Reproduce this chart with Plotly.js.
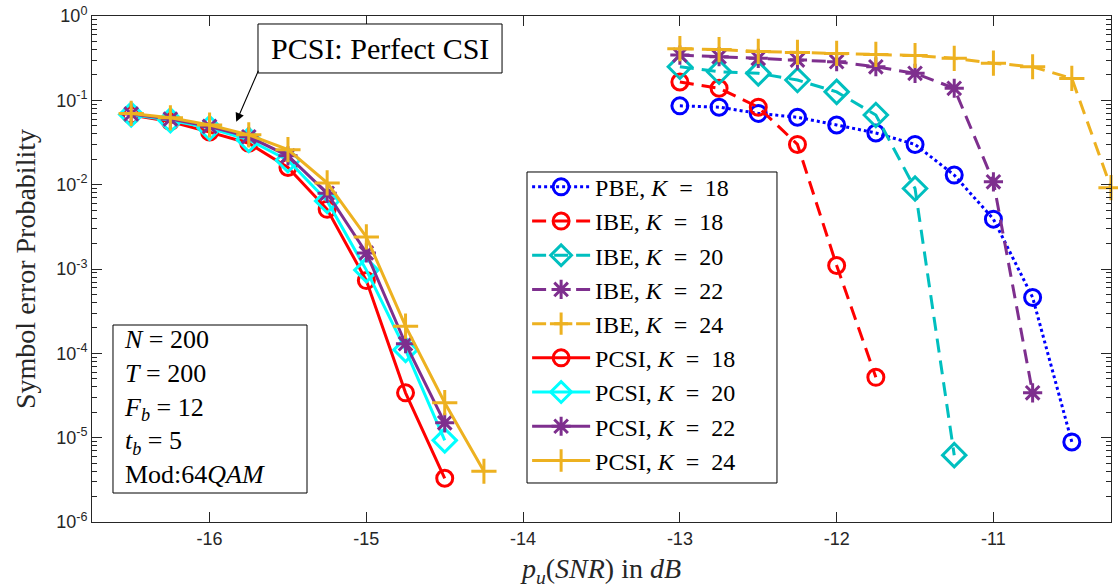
<!DOCTYPE html>
<html>
<head>
<meta charset="utf-8">
<script src="https://cdn.plot.ly/plotly-3.0.1.min.js"></script>
<style>html,body{margin:0;padding:0;background:#fff;}#chart{width:1118px;height:588px;}</style>
</head>
<body>
<div id="chart"></div>
<script>
// ---- data ----
const xPCSI = [-16.5, -16.25, -16.0, -15.75, -15.5, -15.25, -15.0, -14.75, -14.5, -14.25];
const pcsiK18 = [0.067, 0.056, 0.042, 0.031, 0.016, 0.0051, 0.00073, 3.4e-5, 3.3e-6];
const pcsiK20 = [0.068, 0.058, 0.047, 0.034, 0.0195, 0.0064, 0.00097, 1.1e-4, 9.3e-6];
const pcsiK22 = [0.069, 0.060, 0.049, 0.037, 0.022, 0.0079, 0.00155, 1.3e-4, 1.5e-5];
const pcsiK24 = [0.070, 0.062, 0.051, 0.039, 0.026, 0.0105, 0.0024, 2.1e-4, 2.6e-5, 4.0e-6];

const xIBE = [-13.0, -12.75, -12.5, -12.25, -12.0, -11.75, -11.5, -11.25, -11.0, -10.75, -10.5, -10.25];
const pbeK18 = [0.086, 0.083, 0.070, 0.063, 0.051, 0.041, 0.030, 0.013, 0.0039, 4.6e-4, 8.9e-6];
const ibeK18 = [0.165, 0.139, 0.083, 0.030, 0.0011, 5.2e-5];
const ibeK20 = [0.25, 0.218, 0.209, 0.174, 0.126, 0.067, 0.009, 6.2e-6];
const ibeK22 = [0.344, 0.329, 0.315, 0.300, 0.287, 0.250, 0.209, 0.139, 0.0108, 3.4e-5];
const ibeK24 = [0.41, 0.40, 0.38, 0.37, 0.36, 0.35, 0.34, 0.315, 0.276, 0.25, 0.182, 0.0092];

const xTickVals = [-16, -15, -14, -13, -12, -11];
const xTickText = ['-16', '-15', '-14', '-13', '-12', '-11'];
const yTickVals = [1e-6, 1e-5, 1e-4, 1e-3, 1e-2, 1e-1, 1];
const yTickText = ['10<sup>-6</sup>', '10<sup>-5</sup>', '10<sup>-4</sup>', '10<sup>-3</sup>', '10<sup>-2</sup>', '10<sup>-1</sup>', '10<sup>0</sup>'];

const EQ = '&nbsp;&nbsp;=&nbsp;&nbsp;';
const seriesNames = [
  'PBE, <i>K</i>' + EQ + '18', 'IBE, <i>K</i>' + EQ + '18', 'IBE, <i>K</i>' + EQ + '20',
  'IBE, <i>K</i>' + EQ + '22', 'IBE, <i>K</i>' + EQ + '24',
  'PCSI, <i>K</i>' + EQ + '18', 'PCSI, <i>K</i>' + EQ + '20', 'PCSI, <i>K</i>' + EQ + '22', 'PCSI, <i>K</i>' + EQ + '24'
];
const annoText = 'PCSI: Perfect CSI';
const paramText = '<i>N</i> = 200<br><i>T</i> = 200<br><i>F<sub>b</sub></i> = 12<br><i>t<sub>b</sub></i> = 5<br>Mod:64<i>QAM</i>';

// ---- styles ----
const C = {blue:'#0000FF', red:'#FF0000', teal:'#00BFBF', cyan:'#00FFFF', purple:'#7E2F8E', orange:'#EDB120'};
const DASH = '14px,8px';

function tr(x, y, name, color, dash, symbol, msize) {
  return {
    x: x.slice(0, y.length), y: y, name: name, type: 'scatter', mode: 'lines+markers',
    cliponaxis: false,
    line: {color: color, width: 3, dash: dash},
    marker: {symbol: symbol, size: msize, color: color, line: {color: color, width: 3}}
  };
}

const traces = [
  tr(xIBE, pbeK18, seriesNames[0], C.blue, 'dot', 'circle-open', 16),
  tr(xIBE, ibeK18, seriesNames[1], C.red, DASH, 'circle-open', 16),
  tr(xIBE, ibeK20, seriesNames[2], C.teal, DASH, 'diamond-open', 18),
  tr(xIBE, ibeK22, seriesNames[3], C.purple, DASH, 'asterisk-open', 16),
  tr(xIBE, ibeK24, seriesNames[4], C.orange, DASH, 'cross-thin-open', 18),
  tr(xPCSI, pcsiK18, seriesNames[5], C.red, 'solid', 'circle-open', 16),
  tr(xPCSI, pcsiK20, seriesNames[6], C.cyan, 'solid', 'diamond-open', 18),
  tr(xPCSI, pcsiK22, seriesNames[7], C.purple, 'solid', 'asterisk-open', 16),
  tr(xPCSI, pcsiK24, seriesNames[8], C.orange, 'solid', 'cross-thin-open', 18)
];

const minorVals = [];
for (let e = -6; e < 0; e++) for (let d = 2; d <= 9; d++) minorVals.push(d * Math.pow(10, e));

const serif = 'Liberation Serif, DejaVu Serif, serif';
const sans = 'Liberation Sans, Arial, sans-serif';
const axisCol = '#262626';

function box(x0, y0, x1, y1) {
  return {type: 'rect', xref: 'paper', yref: 'paper', x0: x0, y0: y0, x1: x1, y1: y1,
          line: {color: '#000', width: 1}, fillcolor: '#fff', layer: 'above'};
}

const layout = {
  width: 1118, height: 588,
  margin: {l: 92, r: 7, t: 16, b: 66},
  paper_bgcolor: '#fff', plot_bgcolor: '#fff',
  showlegend: true,
  legend: {
    x: 0.427, y: 0.706, xanchor: 'left', yanchor: 'top',
    borderwidth: 0, bgcolor: 'rgba(0,0,0,0)',
    font: {family: serif, size: 24, color: '#000'},
    itemwidth: 58, tracegroupgap: 0
  },
  xaxis: {
    range: [-16.75, -10.25], tickmode: 'array', tickvals: xTickVals, ticktext: xTickText,
    ticks: 'inside', ticklen: 10, tickcolor: axisCol, tickwidth: 1,
    showline: true, linecolor: axisCol, linewidth: 1, mirror: 'allticks',
    showgrid: false, zeroline: false,
    tickfont: {family: sans, size: 18, color: axisCol},
    title: {text: '<i>p<sub>u</sub></i>(<i>SNR</i>) in <i>dB</i>', font: {family: serif, size: 28, color: '#262626'}, standoff: 10}
  },
  yaxis: {
    type: 'log', range: [-6, 0], tickmode: 'array', tickvals: yTickVals, ticktext: yTickText,
    ticks: 'inside', ticklen: 10, tickcolor: axisCol, tickwidth: 1,
    showline: true, linecolor: axisCol, linewidth: 1, mirror: 'allticks',
    showgrid: false, zeroline: false,
    minor: {tickmode: 'array', tickvals: minorVals, ticks: 'inside', ticklen: 5, tickcolor: axisCol, showgrid: false},
    tickfont: {family: sans, size: 18, color: axisCol},
    title: {text: 'Symbol error Probability', font: {family: serif, size: 28, color: '#262626'}, standoff: 12}
  },
  shapes: [
    box(0.4269, 0.0771, 0.6722, 0.6917),
    box(0.0206, 0.0573, 0.2110, 0.3893),
    box(0.1629, 0.8874, 0.4024, 0.9842)
  ],
  annotations: [
    {
      xref: 'paper', yref: 'paper', x: 0.2826, y: 0.9358, xanchor: 'center', yanchor: 'middle',
      text: annoText, showarrow: false,
      font: {family: serif, size: 30, color: '#000'}
    },
    {
      xref: 'x', yref: 'y', x: -15.83, y: Math.log10(0.0557),
      text: ' ', showarrow: true, ax: 23, ay: -53,
      arrowhead: 2, arrowsize: 1.6, arrowwidth: 1.1, arrowcolor: '#000', standoff: 0, startstandoff: 0,
      font: {size: 1}
    },
    {
      xref: 'paper', yref: 'paper', x: 0.0294, y: 0.228, xanchor: 'left', yanchor: 'middle', align: 'left',
      text: paramText, showarrow: false,
      font: {family: serif, size: 26, color: '#000'}
    }
  ]
};

Plotly.newPlot('chart', traces, layout, {displayModeBar: false, staticPlot: true});
</script>
</body>
</html>
